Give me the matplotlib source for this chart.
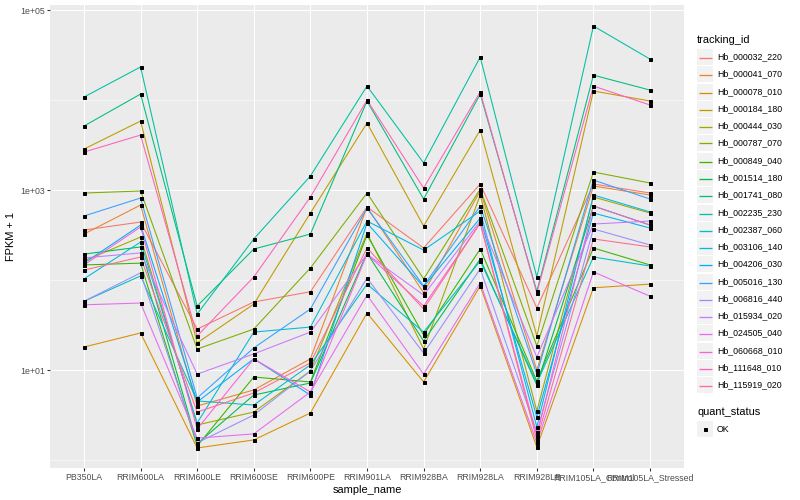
import numpy as np
import matplotlib
matplotlib.use("Agg")
import matplotlib.pyplot as plt
from matplotlib.patches import Rectangle
from matplotlib.lines import Line2D

plt.rcParams['font.family'] = ['Liberation Sans', 'DejaVu Sans']

# sample names on the x axis
samples = ["PB350LA", "RRIM600LA", "RRIM600LE", "RRIM600SE", "RRIM600PE",
           "RRIM901LA", "RRIM928BA", "RRIM928LA", "RRIM928LB",
           "RRIM105LA_Control", "RRIM105LA_Stressed"]

# tracking ids (legend order)
ids = ["Hb_000032_220", "Hb_000041_070", "Hb_000078_010", "Hb_000184_180",
       "Hb_000444_030", "Hb_000787_070", "Hb_000849_040", "Hb_001514_180",
       "Hb_001741_080", "Hb_002235_230", "Hb_002387_060", "Hb_003106_140",
       "Hb_004206_030", "Hb_005016_130", "Hb_006816_440", "Hb_015934_020",
       "Hb_024505_040", "Hb_060668_010", "Hb_111648_010", "Hb_115919_020"]

# FPKM + 1 per tracking id, one value per sample
fpkm = {
    "Hb_000032_220": [359, 441, 28.5, 57, 74, 648, 227, 1166, 48.9, 1166, 926],
    "Hb_000041_070": [324, 681, 3.98, 6.0, 13.3, 648, 72, 975, 10, 1108, 880],
    "Hb_000078_010": [18, 25.8, 1.36, 1.67, 3.33, 43, 7.36, 86, 1.39, 82, 90],
    "Hb_000184_180": [2850, 5840, 20, 54, 555, 5550, 398, 4640, 23.9, 12600, 9750],
    "Hb_000444_030": [163, 300, 2.45, 3.41, 9.75, 333, 17.1, 880, 3.5, 836, 555],
    "Hb_000787_070": [926, 975, 17.1, 28.5, 136, 926, 103, 1026, 18.5, 1585, 1197],
    "Hb_000849_040": [147, 154, 1.43, 8.36, 7.36, 316, 24.5, 221, 7.55, 227, 147],
    "Hb_001514_180": [194, 233, 1.51, 5.27, 7.17, 200, 21, 171, 6.8, 664, 408],
    "Hb_001741_080": [5140, 11650, 51.4, 221, 324, 9750, 794, 11650, 75, 18900, 12900],
    "Hb_002235_230": [10800, 23300, 41.9, 286, 1430, 14300, 2000, 30000, 108, 66400, 28500],
    "Hb_002387_060": [58, 111, 4.53, 4.08, 11.4, 90, 26.4, 163, 7.17, 180, 143],
    "Hb_003106_140": [103, 264, 2.58, 26.4, 30, 452, 215, 584, 2.33, 880, 570],
    "Hb_004206_030": [154, 408, 4.41, 13.3, 5.27, 430, 84, 488, 3.0, 555, 378],
    "Hb_005016_130": [514, 815, 4.89, 17.6, 47.6, 631, 86, 664, 9.0, 1290, 794],
    "Hb_006816_440": [58, 120, 1.55, 3.16, 9.75, 105, 15.4, 133, 2.05, 369, 245],
    "Hb_015934_020": [176, 200, 9.0, 15.1, 26.4, 194, 68, 452, 13.9, 419, 452],
    "Hb_024505_040": [53, 55.5, 1.75, 1.95, 5.7, 68, 9.0, 93, 1.55, 123, 66],
    "Hb_060668_010": [147, 388, 2.21, 13.3, 5.7, 194, 51.4, 430, 1.85, 664, 408],
    "Hb_111648_010": [2640, 4080, 23.9, 108, 836, 10000, 1052, 12300, 72, 14300, 8800],
    "Hb_115919_020": [129, 180, 3.41, 5.55, 12, 227, 47.6, 430, 1.67, 286, 233],
}

# ggplot default hue palette for 20 groups
colors = ["#F8766D", "#EA8331", "#D89000", "#C09B00", "#A3A500", "#7CAE00",
          "#39B600", "#00BB4E", "#00BF7D", "#00C1A3", "#00BFC4", "#00BAE0",
          "#00B0F6", "#35A2FF", "#9590FF", "#C77CFF", "#E76BF3", "#FA62DB",
          "#FF62BC", "#FF6C91"]

W, H = 800, 500
fig = plt.figure(figsize=(W / 72, H / 72), dpi=72)

def fx(x):
    return x / W

def fy(y):
    return 1 - y / H

# panel
L, R, T, B = 50, 684, 5, 468
ax = fig.add_axes([fx(L), fy(B), (R - L) / W, (B - T) / H])
ax.set_facecolor("#EBEBEB")
for s in ax.spines.values():
    s.set_visible(False)

xpos = np.arange(len(samples))
for i, tid in enumerate(ids):
    ax.plot(xpos, fpkm[tid], color=colors[i], lw=1.07, zorder=3)
for tid in ids:
    ax.plot(xpos, fpkm[tid], ls="none", marker="s", ms=3.0, color="black",
            mec="black", zorder=4)

ax.set_yscale("log")
ax.set_ylim(10 ** -0.089, 10 ** 5.056)
ax.set_xlim(-0.6, len(samples) - 1 + 0.6)

ax.set_yticks([10, 1000, 100000])
ax.set_yticklabels(["1e+01", "1e+03", "1e+05"])
ax.set_yticks([1, 100, 10000], minor=True)
ax.yaxis.set_minor_formatter(matplotlib.ticker.NullFormatter())
ax.set_xticks(xpos)
ax.set_xticklabels(samples)

ax.tick_params(which="major", length=2.75, width=1.07, color="#333333",
               labelcolor="#4D4D4D", labelsize=8.8, pad=2.2)
ax.tick_params(which="minor", length=0)

ax.grid(which="major", color="white", lw=1.07)
ax.grid(which="minor", axis="y", color="white", lw=0.53)
ax.set_axisbelow(True)

ax.set_xlabel("sample_name", fontsize=11, labelpad=3)
ax.set_ylabel("FPKM + 1", fontsize=11, labelpad=4)

# legend: tracking_id
fig.text(fx(697), fy(40), "tracking_id", fontsize=11, va="center", ha="left")
step = 17.28
for i, tid in enumerate(ids):
    yc = round(57 + i * step)
    fig.add_artist(Rectangle((fx(697), fy(yc + 8)), 16 / W, 16 / H,
                             transform=fig.transFigure, fc="#F2F2F2", ec="none",
                             zorder=1))
    fig.add_artist(Line2D([fx(698.5), fx(711.5)], [fy(yc + 0.5), fy(yc + 0.5)],
                          transform=fig.transFigure, color=colors[i], lw=1.3,
                          solid_capstyle="butt", zorder=5))
    fig.text(fx(717), fy(yc), tid, fontsize=8.8, va="center", ha="left")

# legend: quant_status
fig.text(fx(697), fy(412), "quant_status", fontsize=11, va="center", ha="left")
fig.add_artist(Rectangle((fx(697), fy(437)), 16 / W, 16 / H,
                         transform=fig.transFigure, fc="#F2F2F2", ec="none"))
fig.add_artist(Line2D([fx(705)], [fy(429)], transform=fig.transFigure,
                      ls="none", marker="s", ms=3.0, color="black", zorder=5))
fig.text(fx(717), fy(429), "OK", fontsize=8.8, va="center", ha="left")

fig.savefig("out.png", dpi=72, facecolor="white")
